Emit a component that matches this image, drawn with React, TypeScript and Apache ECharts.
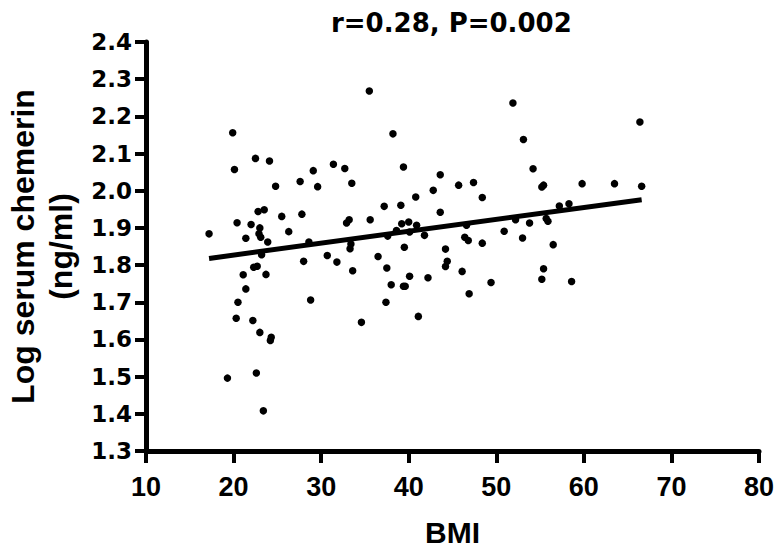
import React, { useEffect, useRef } from "react";
import * as echarts from "echarts";

// BMI values (x) of each subject
const bmi: number[] = [
  35.5, 19.9, 38.2, 20.1, 22.5, 24.1, 39.4, 31.4, 32.7, 29.1,
  43.6, 24.8, 27.6, 29.6, 33.5, 45.7, 42.8, 40.8, 37.2, 39.1,
  43.6, 22.8, 23.5, 25.5, 27.8, 20.4, 22.0, 17.2, 21.4, 23.0,
  22.9, 23.1, 23.9, 26.3, 32.9, 33.2, 35.6, 39.2, 40.0, 40.9,
  38.6, 40.1, 41.8, 39.5, 44.2, 28.6, 33.3, 33.4, 37.6,
  23.2, 28.0, 30.7, 31.8, 33.6, 36.5, 37.5, 38.0, 37.4, 39.4,
  39.6, 40.1, 41.1, 42.2, 44.4, 44.2, 22.3, 22.7, 21.1, 23.7,
  21.4, 20.5, 20.3, 22.2, 23.0, 24.2, 24.3, 28.8, 34.6, 19.3,
  22.6, 23.4,
  51.9, 66.4, 53.1, 54.2, 47.4, 48.4, 55.2, 55.4, 59.8, 63.5,
  66.6, 57.2, 58.3, 55.7, 55.9, 53.8, 46.6, 52.2, 50.9, 53.0,
  46.4, 46.8, 48.4, 56.5,
  46.1, 46.9, 49.4, 55.4, 55.2, 58.6,
];

// Log serum chemerin (ng/ml) of each subject
const logChemerin: number[] = [
  2.268, 2.156, 2.153, 2.057, 2.087, 2.080, 2.064, 2.071, 2.060, 2.054,
  2.043, 2.012, 2.025, 2.011, 2.020, 2.015, 2.001, 1.983, 1.958, 1.961,
  1.942, 1.944, 1.949, 1.931, 1.937, 1.914, 1.909, 1.884, 1.872, 1.900,
  1.884, 1.875, 1.862, 1.890, 1.913, 1.922, 1.922, 1.911, 1.916, 1.907,
  1.893, 1.889, 1.880, 1.848, 1.843, 1.862, 1.844, 1.857, 1.878,
  1.828, 1.810, 1.826, 1.808, 1.785, 1.823, 1.792, 1.747, 1.700, 1.743,
  1.743, 1.770, 1.662, 1.766, 1.810, 1.796, 1.794, 1.797, 1.774, 1.775,
  1.736, 1.700, 1.657, 1.651, 1.619, 1.597, 1.606, 1.706, 1.646, 1.496,
  1.510, 1.408,
  2.236, 2.185, 2.138, 2.059, 2.022, 1.982, 2.010, 2.015, 2.019, 2.019,
  2.012, 1.959, 1.965, 1.925, 1.918, 1.913, 1.907, 1.922, 1.891, 1.873,
  1.875, 1.866, 1.859, 1.855,
  1.783, 1.723, 1.753, 1.790, 1.762, 1.756,
];

// Regression line end points
const fitX: number[] = [17.2, 66.6];
const fitY: number[] = [1.818, 1.976];

const titleText = "r=0.28, P=0.002";
const xName = "BMI";
const yName = "Log serum chemerin\n(ng/ml)";

export default function App() {
  const ref = useRef<HTMLDivElement>(null);

  useEffect(() => {
    if (!ref.current) return;
    const chart = echarts.init(ref.current, undefined, { renderer: "svg" });
    const points = bmi.map((x, i) => [x, logChemerin[i]]);
    const fit = fitX.map((x, i) => [x, fitY[i]]);
    chart.setOption({
      animation: false,
      backgroundColor: "#ffffff",
      title: {
        text: titleText,
        left: 326,
        top: 5,
        textStyle: {
          fontFamily: "DejaVu Sans",
          fontWeight: "bold",
          fontSize: 26,
          color: "#000",
        },
      },
      grid: {
        left: 146,
        right: 15,
        top: 42,
        bottom: 97,
        containLabel: false,
        outerBoundsMode: "none",
      },
      xAxis: {
        type: "value",
        min: 10,
        max: 80,
        interval: 10,
        splitLine: { show: false },
        axisLine: { show: true, lineStyle: { color: "#000", width: 5 } },
        axisTick: { show: true, length: 12, lineStyle: { color: "#000", width: 4 } },
        axisLabel: {
          color: "#000",
          fontFamily: "Liberation Sans",
          fontWeight: "bold",
          fontSize: 27,
          margin: 22,
        },
        name: xName,
        nameLocation: "middle",
        nameGap: 66,
        nameTextStyle: {
          color: "#000",
          fontFamily: "Liberation Sans",
          fontWeight: "bold",
          fontSize: 30,
          lineHeight: 30,
        },
      },
      yAxis: {
        type: "value",
        min: 1.3,
        max: 2.4,
        interval: 0.1,
        splitLine: { show: false },
        axisLine: { show: true, lineStyle: { color: "#000", width: 5 } },
        axisTick: { show: true, length: 11, lineStyle: { color: "#000", width: 4 } },
        axisLabel: {
          color: "#000",
          fontFamily: "DejaVu Sans",
          fontWeight: "bold",
          fontSize: 23,
          margin: 14,
          formatter: (v: number) => v.toFixed(1),
        },
        name: yName,
        nameLocation: "middle",
        nameRotate: 90,
        nameGap: 66,
        nameTextStyle: {
          color: "#000",
          fontFamily: "Liberation Sans",
          fontWeight: "bold",
          fontSize: 32,
          lineHeight: 38,
        },
      },
      series: [
        {
          type: "line",
          data: fit,
          symbol: "none",
          lineStyle: { color: "#000", width: 5 },
          silent: true,
        },
        {
          type: "scatter",
          data: points,
          symbol: "circle",
          symbolSize: 7.5,
          itemStyle: { color: "#000", opacity: 1 },
          silent: true,
        },
      ],
    });
    return () => chart.dispose();
  }, []);

  return (
    <div
      ref={ref}
      style={{ position: "fixed", left: 0, top: 0, width: 774, height: 548, background: "#fff" }}
    />
  );
}
